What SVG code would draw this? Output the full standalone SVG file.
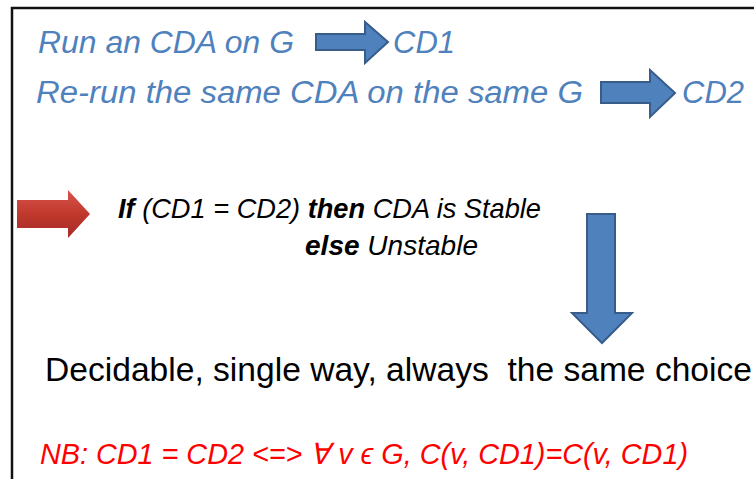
<svg xmlns="http://www.w3.org/2000/svg" width="754" height="479" viewBox="0 0 754 479">
<defs>
<style>
text{white-space:pre}
.blue{font-family:"Liberation Sans",Arial,sans-serif;font-style:italic;fill:#4f81bd;font-size:31px}
.blk{font-family:"Liberation Sans",Arial,sans-serif;font-style:italic;fill:#000;font-size:28px}
.big{font-family:"Liberation Sans",Arial,sans-serif;fill:#000;font-size:33px}
.red{font-family:"Liberation Sans",Arial,sans-serif;font-style:italic;fill:#ff0000;font-size:29px}
.b{font-weight:bold}
.barrow{fill:#4f81bd;stroke:#385d8a;stroke-width:2}
.rarrow{fill:url(#rg);stroke:none}
</style>
<linearGradient id="rg" x1="0" y1="0" x2="0" y2="1">
<stop offset="0" stop-color="#d9534f"/>
<stop offset="0.5" stop-color="#c0392b"/>
<stop offset="1" stop-color="#a52a2a"/>
</linearGradient>
</defs>
<rect width="754" height="479" fill="#fff"/>
<g id="frame">
<path d="M12 479 V8 H754" fill="none" stroke="#111" stroke-width="2.5"/>
</g>
<g id="line1">
<text class="blue" x="38" y="53" textLength="256" lengthAdjust="spacingAndGlyphs">Run an CDA on G</text>
</g>
<g id="cd1">
<text class="blue" x="393" y="53" textLength="62" lengthAdjust="spacingAndGlyphs">CD1</text>
</g>
<g id="line2">
<text class="blue" x="36" y="103" textLength="547" lengthAdjust="spacingAndGlyphs">Re-run the same CDA on the same G</text>
</g>
<g id="cd2">
<text class="blue" x="682" y="103" textLength="62" lengthAdjust="spacingAndGlyphs">CD2</text>
</g>
<g id="condition">
<text class="blk" x="118" y="218" textLength="423" lengthAdjust="spacingAndGlyphs"><tspan class="b">If</tspan> (CD1 = CD2) <tspan class="b">then</tspan> CDA is Stable</text>
<text class="blk" x="305" y="255" textLength="173" lengthAdjust="spacingAndGlyphs"><tspan class="b">else</tspan> Unstable</text>
</g>
<g id="result">
<text class="big" x="45" y="381" textLength="707" lengthAdjust="spacingAndGlyphs">Decidable, single way, always  the same choice</text>
</g>
<g id="nb">
<text class="red" x="40" y="464" textLength="648" lengthAdjust="spacingAndGlyphs">NB: CD1 = CD2 &lt;=&gt; ∀ v ϵ G, C(v, CD1)=C(v, CD1)</text>
</g>
<g id="connectors">
<polygon class="barrow" points="316,34 365,34 365,22 388,42 365,63 365,50 316,50"/>
<polygon class="barrow" points="601,82 650,82 650,70 675,93 650,117 650,103 601,103"/>
<polygon class="rarrow" points="17,200 68,200 68,190 90,214 68,238 68,228 17,228"/>
<polygon class="barrow" points="587,214 615,214 615,313 632,313 602,343 572,313 587,313"/>
</g>
</svg>
